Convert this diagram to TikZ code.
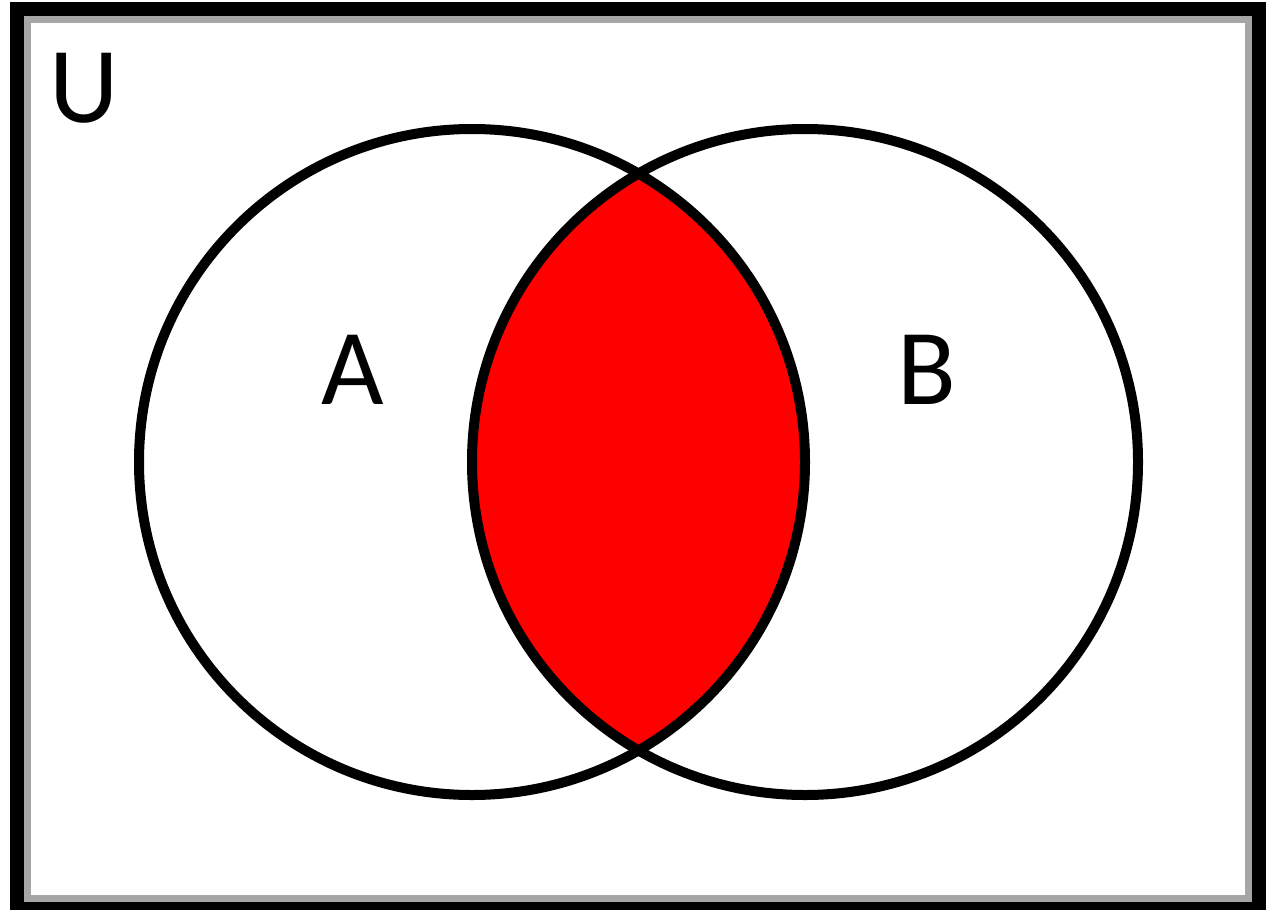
\documentclass[tikz,border=0pt]{standalone}
\usepackage{fontspec}
\setmainfont{Carlito}
\begin{document}
\begin{tikzpicture}[x=1pt,y=-1pt,
  setline/.style={line width=10pt,draw=black},
  lbl/.style={font=\fontsize{108}{108}\selectfont,inner sep=0pt,anchor=base}]
\useasboundingbox (0,0) rectangle (1281,910);
\fill[white] (0,0) rectangle (1281,910);
% frame
\draw[line width=14pt,black] (17,9) rectangle (1259,903);
\draw[line width=7pt,black!35] (27.5,19.5) rectangle (1248.5,898.5);
\coordinate (ca) at (472,462);
\coordinate (cb) at (805,462);
% intersection
\begin{scope}
  \clip (ca) circle[radius=333];
  \fill[red] (cb) circle[radius=333];
\end{scope}
\draw[setline] (ca) circle[radius=333];
\draw[setline] (cb) circle[radius=333];
\node[lbl] (u) at (84,122) {U};
\node[lbl] (a) at (353,404) {A};
\node[lbl] (b) at (927,404) {B};
\end{tikzpicture}
\end{document}
